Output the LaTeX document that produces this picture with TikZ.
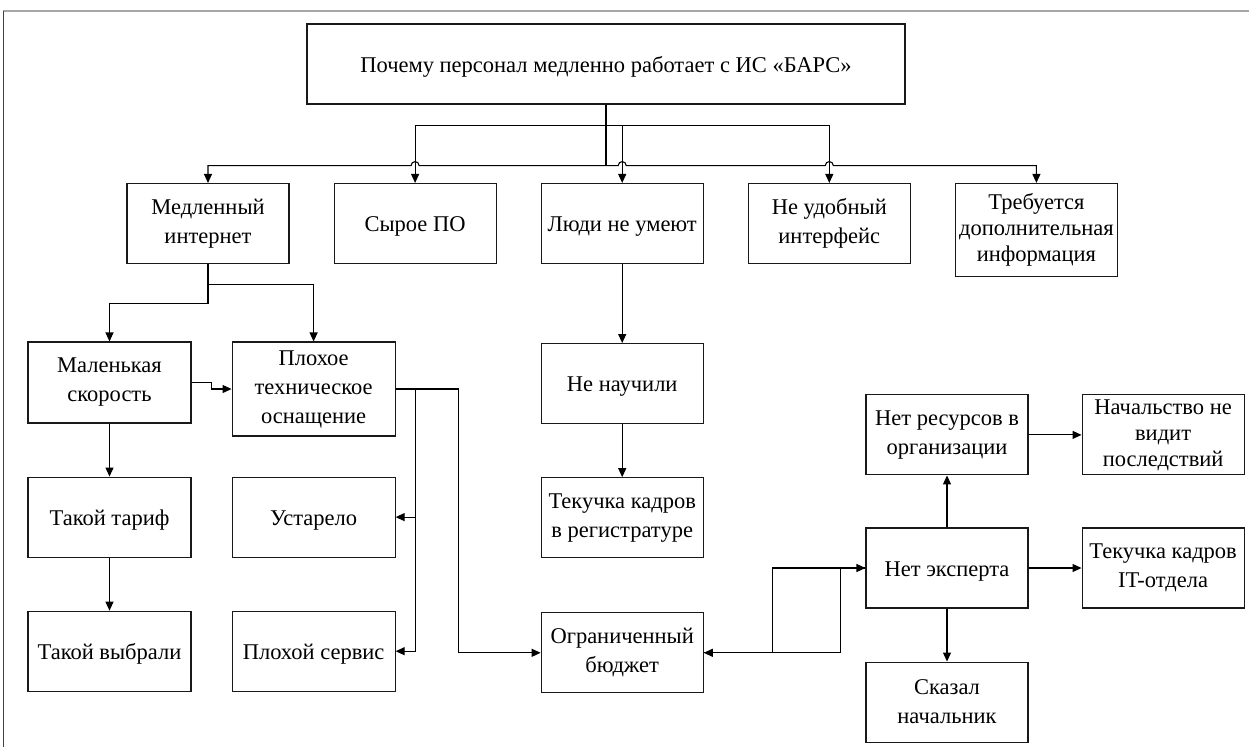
\documentclass[tikz,border=0pt]{standalone}
\usepackage{fontspec}
\setmainfont{Liberation Serif}
\usepackage{tikz}
\usetikzlibrary{positioning}
\usetikzlibrary{arrows.meta}
\usetikzlibrary{calc}

\tikzset{
   box/.style={draw=black!90, line width=1.1pt, minimum width=162pt,
      minimum height=80pt, inner sep=0pt, align=center,
      font=\fontsize{22.5}{29}\selectfont,
      execute at begin node={\rule{0pt}{21pt}}},
   tall/.style={font=\fontsize{22.5}{26}\selectfont},
   arr/.style={-{Triangle[length=9pt,width=8pt]}, line width=1.1pt},
}

\begin{document}
\begin{tikzpicture}[x=1pt,y=-1pt]
   \useasboundingbox (0,0) rectangle (1249,747);

   % page frame
   \draw[gray!70, line width=2.5pt] (3,11) -- (1249,11);
   \draw[black!75, line width=1pt]  (3,11) -- (3,747);

   % question
   \node[box, minimum width=598pt] (q0) at (606,64)
      {Почему персонал медленно работает с ИС «БАРС»};

   % first level
   \node[box] (c1) at (208,223.5)         {Медленный\\интернет};
   \node[box, right=44pt of c1] (c2)      {Сырое ПО};
   \node[box, right=44pt of c2] (c3)      {Люди не умеют};
   \node[box, right=44pt of c3] (c4)      {Не удобный\\интерфейс};
   \node[box, tall, minimum height=93pt,
      below right=0pt and 44pt of c4.north east] (c5)
      {Требуется\\дополнительная\\информация};

   % slow internet
   \node[box, minimum width=163pt, minimum height=81pt] (a1) at (109.5,382.5)
      {Маленькая\\скорость};
   \node[box, minimum width=163pt, minimum height=94pt,
      below right=0pt and 40pt of a1.north east] (b1)
      {Плохое\\техническое\\оснащение};
   \node[box, minimum width=163pt, below=53pt of a1] (a2) {Такой тариф};
   \node[box, minimum width=163pt, below=53pt of a2] (a3) {Такой выбрали};
   \node[box, minimum width=163pt, below=40pt of b1] (b2) {Устарело};
   \node[box, minimum width=163pt, below=53pt of b2] (b3) {Плохой сервис};

   % people
   \node[box, below=79pt of c3] (d1) {Не научили};
   \node[box, below=53pt of d1] (d2) {Текучка кадров\\в регистратуре};
   \node[box, below=54pt of d2] (d3) {Ограниченный\\бюджет};

   % expert
   \node[box] (e1) at (947,568)          {Нет эксперта};
   \node[box, above=52pt of e1] (e2)     {Нет ресурсов в\\организации};
   \node[box, tall, right=53pt of e2] (e3) {Начальство не\\видит\\последствий};
   \node[box, right=53pt of e1] (e4)     {Текучка кадров\\IT-отдела};
   \node[box, below=53pt of e1] (e5)     {Сказал\\начальник};

   % buses under the question
   \coordinate[below=61pt of q0] (h0);
   \coordinate[below=21pt of q0] (h1);

   \draw[line width=1.1pt] (q0.south) -- (h0);
   \draw[arr] (h0) -- ($(c2.north |- h0)+(4,0)$)
      arc[start angle=0, end angle=180, radius=4pt] -| (c1.north);
   \draw[arr] (h0) -- ($(c3.north |- h0)+(-4,0)$)
      arc[start angle=180, end angle=0, radius=4pt]
      -- ($(c4.north |- h0)+(-4,0)$)
      arc[start angle=180, end angle=0, radius=4pt] -| (c5.north);
   \draw[arr] (h1) -| (c2.north);
   \draw[arr] (h1) -| (c3.north);
   \draw[arr] (h1) -| (c4.north);

   % left branch
   \draw[arr] (c1.south) -- ++(0,39) -| (a1.north);
   \draw[arr] (c1.south) -- ++(0,20) -| (b1.north);
   \draw[arr] (a1.east) -- ++(20,0) |- (b1.west);
   \draw[arr] (a1) -- (a2);
   \draw[arr] (a2) -- (a3);
   \draw[arr] (b1.east) -- ++(20,0) |- (b2.east);
   \draw[arr] (b1.east) -- ++(20,0) |- (b3.east);
   \draw[arr] (b1.east) -- ++(63,0) |- (d3.west);

   % middle branch
   \draw[arr] (c3) -- (d1);
   \draw[arr] (d1) -- (d2);

   % budget and expert
   \draw[arr] (e1.west) -- ++(-93,0) |- (d3.east);
   \draw[arr] (d3.east) -- ++(137,0) |- (e1.west);
   \draw[arr] (e1) -- (e2);
   \draw[arr] (e1) -- (e5);
   \draw[arr] (e1) -- (e4);
   \draw[arr] (e2) -- (e3);
\end{tikzpicture}
\end{document}
